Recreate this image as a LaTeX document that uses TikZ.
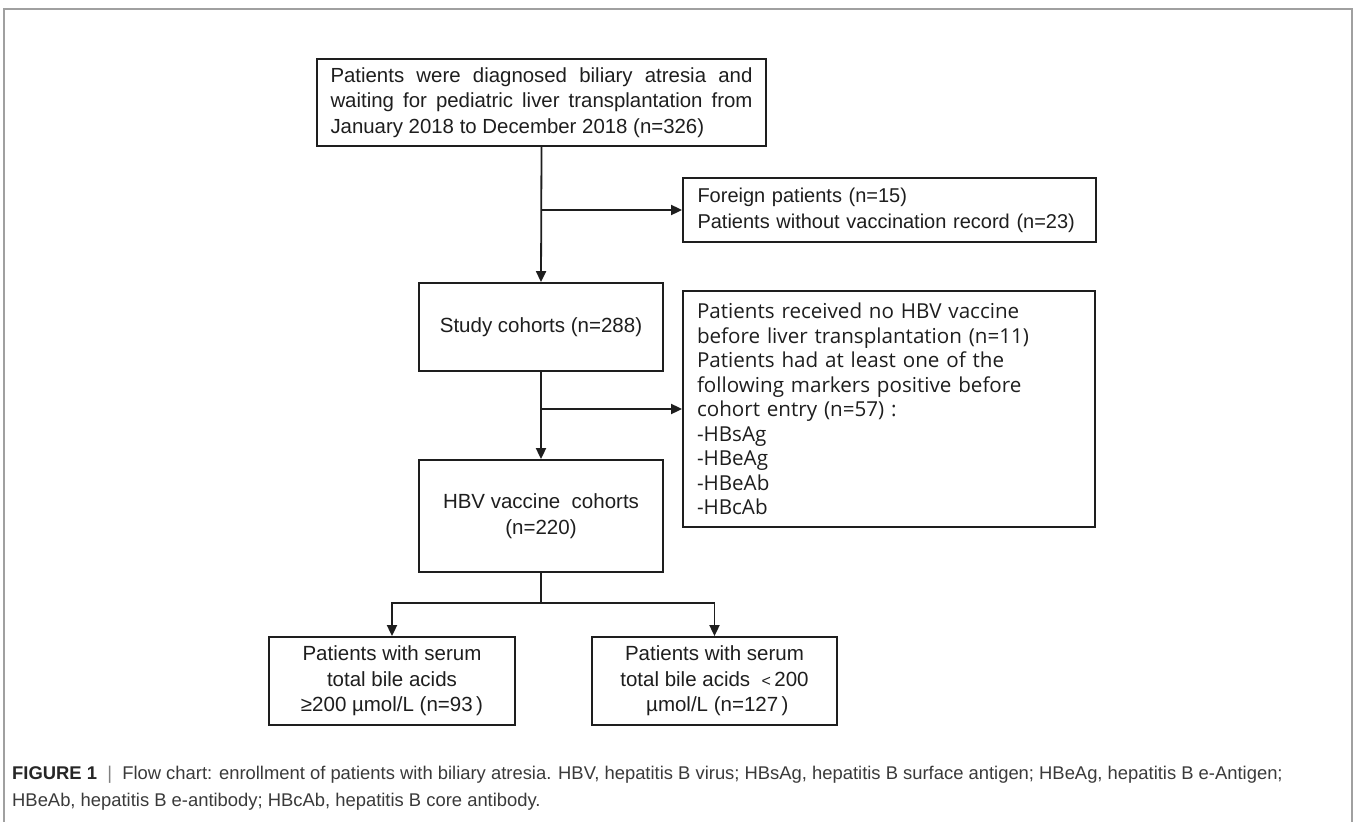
\documentclass[tikz,border=0pt]{standalone}
\usepackage{fontspec}
\setmainfont{Liberation Sans}
\newfontfamily\boxthreefont{Open Sans}
\usetikzlibrary{arrows.meta}
\definecolor{ink}{HTML}{1E1E1E}
\definecolor{capgray}{HTML}{3A3A3A}
\definecolor{framegray}{HTML}{A0A0A0}
\begin{document}
\begin{tikzpicture}[x=1pt,y=-1pt,
  flowbox/.style={draw=ink,line width=1.8pt,rectangle,inner sep=0pt,text=ink},
  arr/.style={draw=ink,line width=1.8pt,-{Triangle[length=11pt,width=10pt]}},
  conn/.style={draw=ink,line width=1.8pt},
  boxtext/.style={font=\fontsize{20.5}{25.5}\selectfont}]
\useasboundingbox (0,0) rectangle (1355,822);
\fill[white] (0,0) rectangle (1355,822);
\draw[framegray,line width=1.2pt] (4,840) -- (4,9) -- (1352,9) -- (1352,840);

% boxes
\node[flowbox,boxtext,minimum width=449pt,minimum height=87pt] (top) at (541.5,102.5)
  {\parbox{422pt}{\fontsize{20.4}{25.5}\selectfont Patients were diagnosed biliary atresia and\linebreak waiting for pediatric liver transplantation from\linebreak January 2018 to December 2018 (n=326)}};
\node[flowbox,font=\fontsize{20}{26}\selectfont,minimum width=413pt,minimum height=64pt,align=left,text width=384pt] (excl1) at (889.5,210)
  {Foreign patients (n=15)\\Patients without vaccination record (n=23)};
\node[flowbox,boxtext,minimum width=244pt,minimum height=88pt,align=center] (study) at (541,327)
  {Study cohorts (n=288)};
\node[flowbox,minimum width=412pt,minimum height=236pt,align=left,text width=384pt,
  font=\boxthreefont\fontsize{20.6}{24.5}\selectfont] (excl2) at (889,409)
  {Patients received no HBV vaccine\\before liver transplantation (n=11)\\Patients had at least one of the\\following markers positive before\\cohort entry (n=57) :\\-HBsAg\\-HBeAg\\-HBeAb\\-HBcAb};
\node[flowbox,boxtext,minimum width=244pt,minimum height=112pt,align=center] (hbv) at (541,516)
  {HBV vaccine\ \ cohorts\\(n=220)};
\node[flowbox,boxtext,minimum width=246pt,minimum height=88pt,align=center] (high) at (392,681)
  {Patients with serum\\total bile acids\\≥200 µmol/L (n=93\,)};
\node[flowbox,boxtext,minimum width=245pt,minimum height=88pt,align=center] (low) at (714.5,681)
  {Patients with serum\\total bile acids\ \ {\fontsize{16}{18}\selectfont<}\,200\\\ µmol/L (n=127\,)};

% connectors
\coordinate (b1) at (541,210);
\coordinate (b2) at (541,409);
\coordinate (split) at (541,603);
\draw[arr] (top.south) -- (study.north);
\draw[arr] (b1) -- (excl1.west);
\draw[arr] (study.south) -- (hbv.north);
\draw[arr] (b2) -- (excl2.west);
\draw[conn] (hbv.south) -- (split);
\draw[arr] (split) -| (high.north);
\draw[arr] (split) -| (low.north);

% caption
\node[anchor=base west,inner sep=0pt,text=capgray,font=\fontsize{18.4}{20}\selectfont] (cap1) at (12,779)
  {\textbf{\color{black!85}FIGURE 1}\ \ {\color{black!50}|}\ \ Flow chart: enrollment of patients with biliary atresia. HBV, hepatitis B virus; HBsAg, hepatitis B surface antigen; HBeAg, hepatitis B e-Antigen;};
\node[anchor=base west,inner sep=0pt,text=capgray,font=\fontsize{18.4}{20}\selectfont] (cap2) at (12,806)
  {HBeAb, hepatitis B e-antibody; HBcAb, hepatitis B core antibody.};
\end{tikzpicture}
\end{document}
